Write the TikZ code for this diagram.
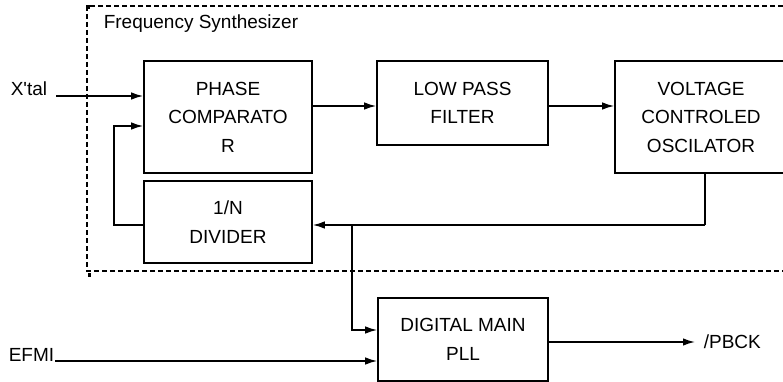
\documentclass[tikz,border=0pt]{standalone}
\usepackage{fontspec}
\setmainfont{Liberation Sans}
\usetikzlibrary{arrows.meta}

\begin{document}
\begin{tikzpicture}[x=1pt,y=-1pt,line width=1.6pt,
  blk/.style={draw,rectangle,align=center,inner sep=0pt,font=\fontsize{19}{28.5}\selectfont},
  lbl/.style={inner sep=0pt,font=\fontsize{19}{23}\selectfont},
  arr/.style={-{Latex[length=12pt,width=7.5pt]}}]
  \useasboundingbox (0,0) rectangle (783,382);
  \draw[dash pattern=on 5pt off 3pt] (783,6) -- (87,6) -- (87,271) -- (783,271);
  \fill (86,5) rectangle (90,9);
  \fill (88,273) rectangle (91,277);
  \node[lbl,anchor=west] (title) at (103,24) {Frequency Synthesizer};

  \node[blk,minimum width=168pt,minimum height=112pt] (pc) at (228,117) {PHASE\\COMPARATO\\R};
  \node[blk,minimum width=171pt,minimum height=84pt] (lpf) at (462.5,103) {LOW PASS\\FILTER};
  \node[blk,minimum width=172pt,minimum height=112pt] (vco) at (701,117) {VOLTAGE\\CONTROLED\\OSCILATOR};
  \node[blk,minimum width=168pt,minimum height=82pt] (div) at (228,222) {1/N\\DIVIDER};
  \node[blk,minimum width=170pt,minimum height=83pt] (dmp) at (463,339.5) {DIGITAL MAIN\\PLL};

  \node[lbl] (xtal) at (29,89) {X\textquotesingle tal};
  \node[lbl,anchor=base east] (efmi) at (55,361) {EFMI};
  \node[lbl,anchor=west] (pbck) at (703,342) {/PBCK};

  \coordinate (xin) at (56,96);
  \coordinate (pl) at (0,106);
  \coordinate (tap) at (705,225);
  \coordinate (fb) at (114,126);
  \coordinate (br) at (352,225);
  \coordinate (bin) at (0,330);

  \draw[arr] (xin) -- (xin -| pc.west);
  \draw[arr] (pc.east |- pl) -- (lpf.west |- pl);
  \draw[arr] (lpf.east |- pl) -- (vco.west |- pl);
  \draw (vco.south -| tap) -- (tap);
  \draw[arr] (tap) -- (tap -| div.east);
  \draw[arr] (div.west |- tap) -| (fb) -- (fb -| pc.west);
  \draw[arr] (br) |- (dmp.west |- bin);
  \draw[arr] (efmi.base east) -- (efmi.base east -| dmp.west);
  \draw[arr] (dmp.east |- pbck.west) -- ([xshift=-8pt]pbck.west);
\end{tikzpicture}
\end{document}
